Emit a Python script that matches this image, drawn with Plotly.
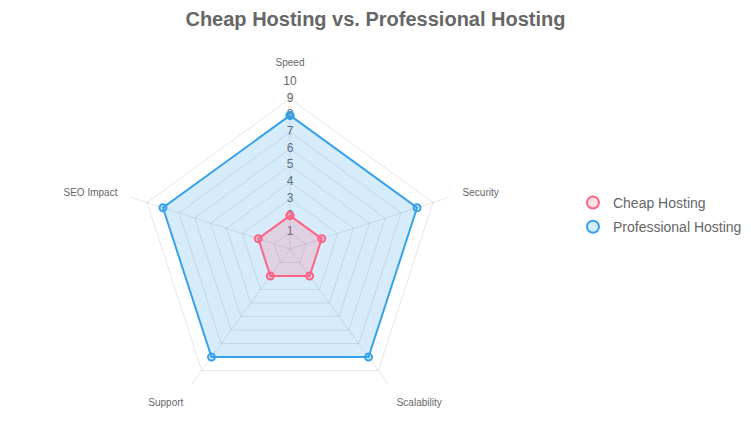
import plotly.graph_objects as go

categories = ["Speed", "Security", "Scalability", "Support", "SEO Impact"]
cheap_values = [2, 2, 2, 2, 2]
pro_values = [8, 8, 8, 8, 8]
radial_ticks = [1, 2, 3, 4, 5, 6, 7, 8, 9, 10]

series = [
    ("Cheap Hosting", cheap_values, "#FF6384", "rgba(255,99,132,0.2)"),
    ("Professional Hosting", pro_values, "#36A2EB", "rgba(54,162,235,0.2)"),
]

fig = go.Figure()

# radial tick labels, drawn centered on the Speed spoke (under the data)
fig.add_trace(go.Scatterpolar(
    r=radial_ticks,
    theta=[categories[0]] * len(radial_ticks),
    text=[str(t) for t in radial_ticks],
    mode="text",
    textposition="middle center",
    textfont=dict(size=12, color="#666"),
    hoverinfo="skip",
    showlegend=False,
))

# data: last series drawn first so the first one sits on top
for name, vals, line_col, fill_col in reversed(series):
    fig.add_trace(go.Scatterpolar(
        r=vals + vals[:1],
        theta=categories + categories[:1],
        name=name,
        legendgroup=name,
        showlegend=False,
        mode="lines+markers",
        fill="toself",
        fillcolor=fill_col,
        line=dict(color=line_col, width=2),
        marker=dict(size=7, color=fill_col, line=dict(color=line_col, width=2)),
    ))

# legend entries: just the point style
for name, vals, line_col, fill_col in series:
    fig.add_trace(go.Scatterpolar(
        r=[None], theta=[None],
        name=name,
        legendgroup=name,
        mode="markers",
        marker=dict(size=12, color=fill_col, line=dict(color=line_col, width=2)),
    ))

# page body has an 8px margin, so the figure is a bit smaller than the window
fig.update_layout(
    width=743,
    height=425,
    margin=dict(l=0, r=0, t=0, b=0),
    paper_bgcolor="white",
    font=dict(family="Liberation Sans, Arial, sans-serif", color="#666"),
    title=dict(
        text="<b>Cheap Hosting vs. Professional Hosting</b>",
        x=0.4946, xanchor="center", y=0.975, yanchor="middle",
        font=dict(size=20, color="#666"),
    ),
    polar=dict(
        domain=dict(x=[0.1548, 0.6043], y=[0.04, 0.8259]),
        bgcolor="white",
        gridshape="linear",
        angularaxis=dict(
            direction="clockwise",
            rotation=90,
            categoryorder="array",
            categoryarray=categories,
            showline=False,
            gridcolor="rgba(0,0,0,0.1)",
            ticks="outside",
            ticklen=12,
            tickcolor="rgba(0,0,0,0)",
            tickfont=dict(size=10, color="#666"),
        ),
        radialaxis=dict(
            range=[0, 10],
            tickvals=radial_ticks,
            showticklabels=False,
            angle=90,
            showline=False,
            ticks="",
            gridcolor="rgba(0,0,0,0.1)",
        ),
    ),
    legend=dict(
        x=0.7604, y=0.513, xanchor="left", yanchor="middle",
        font=dict(size=14, color="#666"),
        itemsizing="trace",
        itemwidth=30,
        tracegroupgap=3,
    ),
)

fig.write_html("out.html")
